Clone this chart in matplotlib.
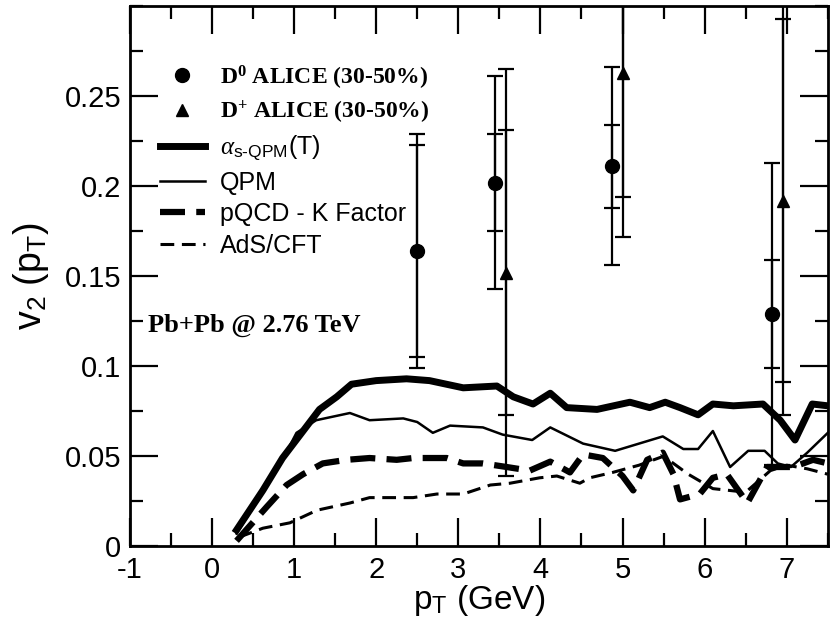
import matplotlib
matplotlib.use("Agg")
import matplotlib.pyplot as plt
from matplotlib.ticker import MultipleLocator

plt.rcParams['font.family'] = ['Liberation Sans', 'DejaVu Sans']
plt.rcParams['axes.unicode_minus'] = False
plt.rcParams['mathtext.fontset'] = 'custom'
plt.rcParams['mathtext.rm'] = 'Liberation Sans'
plt.rcParams['mathtext.sf'] = 'Liberation Sans'
plt.rcParams['mathtext.it'] = 'Liberation Serif:italic'
plt.rcParams['mathtext.bf'] = 'Liberation Serif:bold'

# ALICE D-meson v2, 30-50% centrality
d0_pt = [2.5, 3.45, 4.87, 6.82]
d0_v2 = [0.164, 0.202, 0.211, 0.129]
d0_err_stat = [0.059, 0.027, 0.023, 0.030]
d0_err_tot = [0.065, 0.059, 0.055, 0.084]

dp_pt = [3.58, 5.0, 6.95]
dp_v2 = [0.152, 0.263, 0.192]
dp_err_stat = [0.079, 0.069, 0.101]
dp_err_tot = [0.113, 0.091, 0.119]

# model curves
as_qpm_pt = [0.30, 0.62, 0.86, 1.11, 1.31, 1.52, 1.70, 2.0, 2.37, 2.65, 3.06, 3.47, 3.67, 3.91,
             4.12, 4.32, 4.69, 5.09, 5.33, 5.52, 5.70, 5.92, 6.10, 6.35, 6.71, 6.92, 7.10, 7.31, 7.5]
as_qpm_v2 = [0.009, 0.031, 0.049, 0.064, 0.076, 0.083, 0.090, 0.092, 0.093, 0.092, 0.088, 0.089, 0.083, 0.079,
             0.085, 0.077, 0.076, 0.080, 0.077, 0.080, 0.077, 0.073, 0.079, 0.078, 0.079, 0.070, 0.059, 0.079, 0.078]

qpm_pt = [0.30, 0.62, 0.86, 1.03, 1.27, 1.68, 1.92, 2.33, 2.50, 2.69, 2.90, 3.30, 3.54, 3.90,
          4.12, 4.52, 4.91, 5.49, 5.74, 5.92, 6.10, 6.31, 6.53, 6.73, 6.89, 7.05, 7.25, 7.5]
qpm_v2 = [0.007, 0.030, 0.048, 0.063, 0.070, 0.074, 0.070, 0.071, 0.069, 0.063, 0.067, 0.066, 0.062, 0.059,
          0.066, 0.057, 0.053, 0.061, 0.054, 0.054, 0.064, 0.044, 0.053, 0.053, 0.046, 0.044, 0.052, 0.063]

pqcd_pt = [0.30, 0.67, 0.91, 1.11, 1.35, 1.64, 1.92, 2.25, 2.45, 2.86, 3.06, 3.30, 3.59, 3.87, 4.12, 4.36,
           4.52, 4.76, 5.00, 5.13, 5.30, 5.49, 5.62, 5.70, 5.94, 6.10, 6.27, 6.52, 6.76, 7.08, 7.32, 7.5]
pqcd_v2 = [0.003, 0.022, 0.034, 0.040, 0.046, 0.048, 0.049, 0.048, 0.049, 0.049, 0.046, 0.046, 0.044, 0.042, 0.047, 0.041,
           0.051, 0.049, 0.039, 0.031, 0.048, 0.052, 0.040, 0.026, 0.029, 0.038, 0.040, 0.024, 0.044, 0.044, 0.048, 0.046]

ads_pt = [0.33, 0.62, 0.95, 1.28, 1.68, 1.92, 2.45, 2.74, 3.06, 3.39, 3.63, 3.99, 4.2, 4.48, 4.60, 4.88,
          5.2, 5.5, 5.8, 6.1, 6.5, 6.8, 7.0, 7.25, 7.5]
ads_v2 = [0.005, 0.010, 0.013, 0.020, 0.024, 0.027, 0.027, 0.029, 0.029, 0.034, 0.035, 0.038, 0.039, 0.035, 0.038, 0.041,
          0.045, 0.050, 0.040, 0.032, 0.030, 0.042, 0.045, 0.043, 0.040]

fig = plt.figure(figsize=(8.32, 6.2), dpi=100)
ax = fig.add_axes([0.156, 0.119, 0.839, 0.871])

# data: total and stat errors both drawn with caps
for pt, v2, e1, e2 in [(d0_pt, d0_v2, d0_err_stat, d0_err_tot),
                       (dp_pt, dp_v2, dp_err_stat, dp_err_tot)]:
    ax.errorbar(pt, v2, yerr=e2, fmt='none', ecolor='k', elinewidth=1.6, capsize=6, capthick=1.6)
    ax.errorbar(pt, v2, yerr=e1, fmt='none', ecolor='k', elinewidth=1.6, capsize=6, capthick=1.6)

h_d0, = ax.plot(d0_pt, d0_v2, 'o', color='k', ms=10, label=r'D$^\mathbf{0}$ ALICE (30-50%)')
h_dp, = ax.plot(dp_pt, dp_v2, '^', color='k', ms=9, label=r'D$^\mathbf{+}$ ALICE (30-50%)')

h1, = ax.plot(as_qpm_pt, as_qpm_v2, '-', color='k', lw=5, label=r'$\alpha_{\text{s-QPM}}$(T)')
h2, = ax.plot(qpm_pt, qpm_v2, '-', color='k', lw=1.8, label='QPM')
h3, = ax.plot(pqcd_pt, pqcd_v2, '--', color='k', lw=4.5, dashes=(4, 1.8), label='pQCD - K Factor')
h4, = ax.plot(ads_pt, ads_v2, '--', color='k', lw=2.2, dashes=(4.5, 2.5), label='AdS/CFT')

ax.set_xlim(-1, 7.5)
ax.set_ylim(0, 0.3)
ax.xaxis.set_major_locator(MultipleLocator(1))
ax.xaxis.set_minor_locator(MultipleLocator(0.5))
ax.yaxis.set_minor_locator(MultipleLocator(0.025))
ax.set_yticks([0, 0.05, 0.1, 0.15, 0.2, 0.25])
ax.set_yticklabels(['0', '0.05', '0.1', '0.15', '0.2', '0.25'])
ax.tick_params(which='both', direction='in', top=True, right=True, width=1.6, labelsize=21)
ax.tick_params(which='major', length=20)
ax.tick_params(which='minor', length=9.5)
ax.tick_params(axis='x', pad=7)
ax.tick_params(axis='y', pad=6)
for s in ax.spines.values():
    s.set_linewidth(2)

ax.set_xlabel(r'p$_\mathrm{T}$ (GeV)', fontsize=24, labelpad=-1)
ax.set_ylabel(r'v$_\mathrm{2}$ (p$_\mathrm{T}$)', fontsize=27, labelpad=10)

leg = ax.legend(handles=[h_d0, h_dp, h1, h2, h3, h4], loc='upper left',
                bbox_to_anchor=(0.043, 0.894), frameon=False, fontsize=18,
                borderpad=0, borderaxespad=0, handlelength=1.8, handletextpad=0.6,
                labelspacing=0.3)
for t in leg.get_texts()[:2]:
    t.set_family(['Liberation Serif', 'DejaVu Serif'])
    t.set_weight('bold')
    t.set_fontsize(17)

ax.text(0.026, 0.409, 'Pb+Pb @ 2.76 TeV', transform=ax.transAxes, fontsize=19,
        family=['Liberation Serif', 'DejaVu Serif'], weight='bold', va='center')

fig.savefig('out.png', dpi=100)
